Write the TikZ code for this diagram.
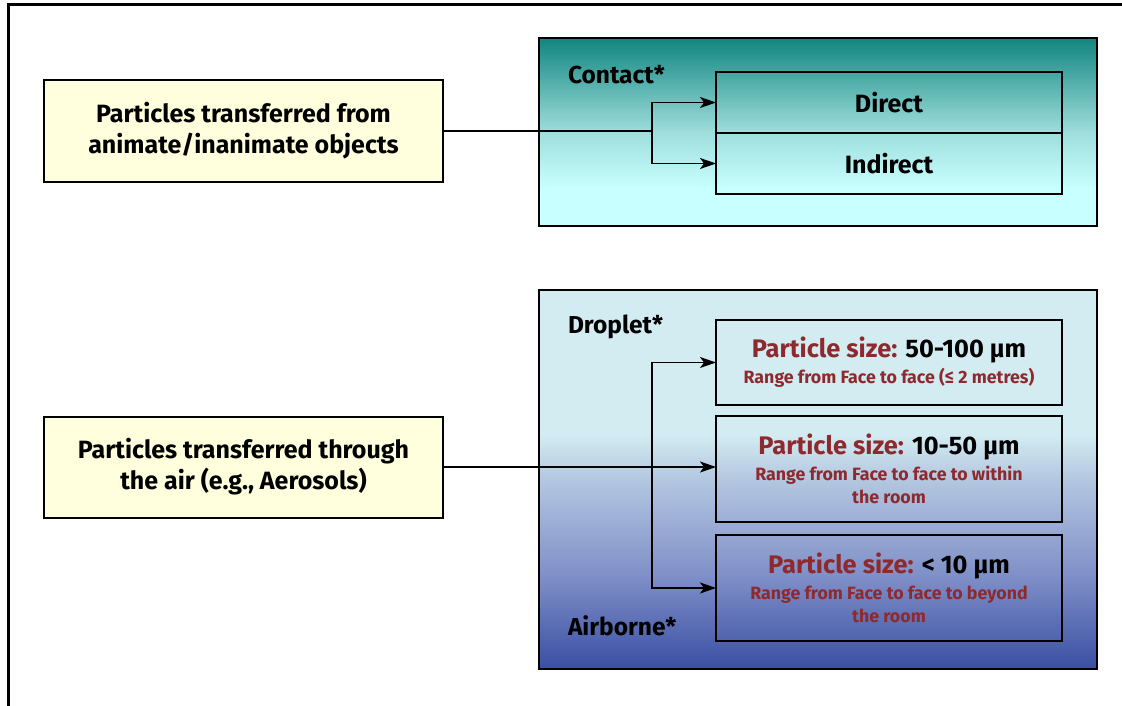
\documentclass[tikz,border=0pt]{standalone}
\usepackage{fontspec}
\setmainfont{Fira Sans}
\usetikzlibrary{positioning, arrows.meta}

\definecolor{srcfill}{HTML}{FFFFDD}
\definecolor{sizered}{HTML}{8E2A2E}
\definecolor{tealtop}{HTML}{11857F}
\definecolor{tealmid}{HTML}{9EDEDC}
\definecolor{tealbot}{HTML}{C8FFFF}
\definecolor{airtop}{HTML}{D3ECF2}
\definecolor{airmid}{HTML}{B3C7E0}
\definecolor{airlow}{HTML}{8090C8}
\definecolor{airbot}{HTML}{3A4FA3}

\pgfdeclareverticalshading{contactshade}{100bp}{color(0bp)=(tealbot); color(25bp)=(tealbot); color(35bp)=(tealbot); color(50bp)=(tealmid); color(75bp)=(tealtop); color(100bp)=(tealtop)}
\pgfdeclareverticalshading{airshade}{100bp}{color(0bp)=(airbot); color(25bp)=(airbot); color(37.5bp)=(airlow); color(50bp)=(airmid); color(56bp)=(airtop); color(100bp)=(airtop)}

\newcommand\sizehead[1]{{\fontsize{25.4}{28}\selectfont\textcolor{sizered}{Particle size:} #1}}
\newcommand\reach[1]{{\fontsize{17.8}{23}\selectfont\textcolor{sizered}{#1}}}

\begin{document}
\begin{tikzpicture}[
    x=1pt, y=-1pt,
    node distance=0pt,
    every node/.style = {inner sep=0pt, outer sep=0pt, font=\bfseries},
    srcbox/.style = {draw, line width=2pt, fill=srcfill, minimum width=399pt, minimum height=101pt, align=center, font=\bfseries\fontsize{25}{31}\selectfont},
    panel/.style = {draw, line width=2pt, minimum width=558pt, shade},
    kindbox/.style = {draw, line width=2pt, minimum width=346pt, minimum height=61pt, font=\bfseries\fontsize{25}{28}\selectfont},
    sizebox/.style = {draw, line width=2pt, minimum width=346pt, align=center, font=\bfseries\fontsize{17.8}{23}\selectfont},
    tag/.style = {anchor=west, font=\bfseries\fontsize{24.5}{26}\selectfont},
    link/.style = {line width=1.5pt, -{Stealth[length=16pt, width=11pt, inset=4pt]}}
]
    \useasboundingbox (0,0) rectangle (1122,706);
    \draw[line width=3pt] (8,706) -- (8,5) -- (1122,5);

    \node[srcbox] (objects) at (243.5,131) {Particles transferred from\\animate/inanimate objects};
    \node[srcbox] (air) at (243.5,467) {Particles transferred through\\the air (e.g., Aerosols)};

    \node[panel, minimum height=188pt, shading=contactshade] (contact) at (818,132) {};
    \node[panel, minimum height=379pt, shading=airshade] (airpanel) at (818,479.5) {};

    \node[tag] (contacttag) at (568,75) {Contact*};
    \node[tag] (droplettag) at (568,327) {Droplet*};
    \node[tag] (airbornetag) at (568,626) {Airborne*};

    \node[kindbox] (direct) at (889,102.5) {Direct};
    \node[kindbox, below=of direct] (indirect) {Indirect};

    \node[sizebox, minimum height=85pt] (large) at (889,362.5) {\sizehead{50-100 µm}\\[3pt]\reach{Range from Face to face (≤ 2 metres)}};
    \node[sizebox, minimum height=106pt, below=11pt of large] (medium) {\sizehead{10-50 µm}\\[3pt]\reach{Range from Face to face to within}\\\reach{the room}};
    \node[sizebox, minimum height=106pt, below=13pt of medium] (small) {\sizehead{< 10 µm}\\[3pt]\reach{Range from Face to face to beyond}\\\reach{the room}};

    % contact route
    \coordinate (fork1) at (objects.east -| 652,0);
    \draw[line width=1.5pt] (objects.east) -- (fork1);
    \draw[link] (fork1) |- (direct.west);
    \draw[link] (fork1) |- (indirect.west);

    % air route
    \coordinate (fork2) at (air.east -| 652,0);
    \draw[link] (air.east) -- (air.east -| medium.west);
    \draw[link] (fork2) |- (large.west);
    \draw[link] (fork2) |- (small.west);
\end{tikzpicture}
\end{document}
